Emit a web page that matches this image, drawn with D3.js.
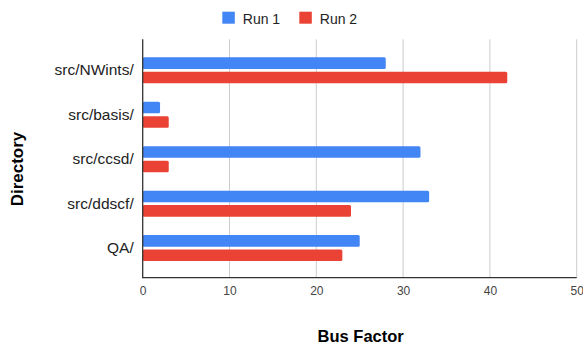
<!DOCTYPE html>
<html>
<head>
<meta charset="utf-8">
<script src="https://cdn.jsdelivr.net/npm/d3@7"></script>
<style>
  html, body { margin: 0; padding: 0; background: #fff; }
  svg { display: block; font-family: Arial, "Liberation Sans", sans-serif; }
</style>
</head>
<body>
<svg id="chart" width="583" height="347"></svg>
<script>
const categories = ["src/NWints/", "src/basis/", "src/ccsd/", "src/ddscf/", "QA/"];
const seriesNames = ["Run 1", "Run 2"];
const run1 = [28, 2, 32, 33, 25];
const run2 = [42, 3, 3, 24, 23];
const xTicks = [0, 10, 20, 30, 40, 50];
const colors = ["#4285F4", "#EA4335"];
const xTitle = "Bus Factor";
const yTitle = "Directory";

const svg = d3.select("#chart");
const W = 583, H = 347;
const plot = { left: 142.7, right: 576.7, top: 39.3, bottom: 277.7 };

const x = d3.scaleLinear().domain([0, 50]).range([plot.left, plot.right]);
const y = d3.scaleBand().domain(categories).range([48.1, 270.3]).padding(0);
const inner = d3.scaleBand().domain(seriesNames).range([-13, 13]).paddingInner(0.2);

// gridlines
svg.append("g").selectAll("line").data(xTicks.filter(d => d > 0)).join("line")
  .attr("x1", d => x(d)).attr("x2", d => x(d))
  .attr("y1", plot.top).attr("y2", plot.bottom)
  .attr("stroke", "#cccccc").attr("stroke-width", 1);

// bars
const data = categories.map((c, i) => ({ c, vals: [run1[i], run2[i]] }));
const groups = svg.append("g").selectAll("g").data(data).join("g")
  .attr("transform", d => `translate(0,${y(d.c) + y.bandwidth() / 2})`);
groups.selectAll("rect").data(d => d.vals.map((v, j) => ({ v, s: seriesNames[j], j }))).join("rect")
  .attr("x", x(0))
  .attr("y", d => inner(d.s))
  .attr("width", d => x(d.v) - x(0))
  .attr("height", inner.bandwidth())
  .attr("rx", 1.5)
  .attr("fill", d => colors[d.j]);

// x axis
const xAxis = d3.axisBottom(x).tickValues(xTicks).tickSize(0).tickPadding(9).tickFormat(d3.format("d"));
const gx = svg.append("g").attr("transform", `translate(0,${plot.bottom})`).call(xAxis);
gx.select(".domain").remove();
gx.selectAll("text").attr("font-size", 12).attr("fill", "#444").attr("font-family", "Arial, 'Liberation Sans', sans-serif");

// y axis labels
const yAxis = d3.axisLeft(y).tickSize(0).tickPadding(9);
const gy = svg.append("g").attr("transform", `translate(${plot.left},0)`).call(yAxis);
gy.select(".domain").remove();
gy.selectAll("text").attr("font-size", 15.5).attr("fill", "#222").attr("font-family", "Arial, 'Liberation Sans', sans-serif");

// axis lines
svg.append("line").attr("x1", plot.left).attr("x2", plot.left).attr("y1", plot.top).attr("y2", plot.bottom + 0.5)
  .attr("stroke", "#333").attr("stroke-width", 1.3);
svg.append("line").attr("x1", plot.left).attr("x2", plot.right).attr("y1", plot.bottom).attr("y2", plot.bottom)
  .attr("stroke", "#333").attr("stroke-width", 1.3);

// titles
svg.append("text").attr("x", (plot.left + plot.right) / 2 + 1).attr("y", 342)
  .attr("text-anchor", "middle").attr("font-size", 16.5).attr("font-weight", "bold").attr("fill", "#000")
  .text(xTitle);
svg.append("text").attr("transform", "translate(23,169) rotate(-90)")
  .attr("text-anchor", "middle").attr("font-size", 17).attr("font-weight", "bold").attr("fill", "#000")
  .text(yTitle);

// legend
const legendX = [222.3, 299.3];
const lg = svg.append("g").selectAll("g").data(seriesNames).join("g")
  .attr("transform", (d, i) => `translate(${legendX[i]},11.7)`);
lg.append("rect").attr("width", 12.5).attr("height", 12).attr("fill", (d, i) => colors[i]);
lg.append("text").attr("x", 20.5).attr("y", 11.8).attr("font-size", 14).attr("fill", "#222").text(d => d);
</script>
</body>
</html>
